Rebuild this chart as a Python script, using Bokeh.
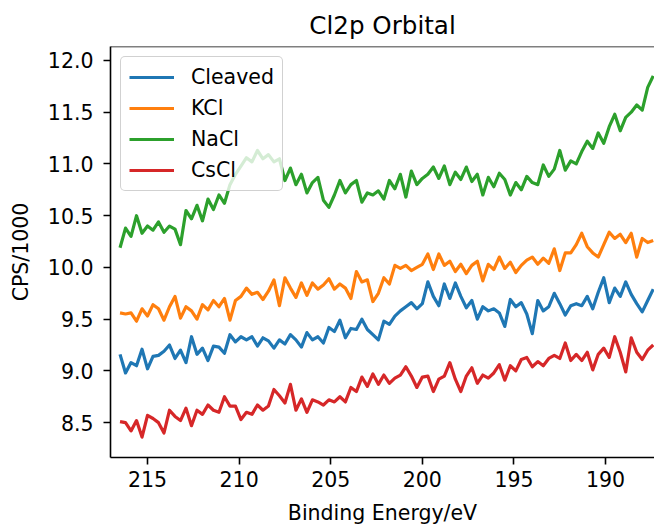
from bokeh.plotting import figure
from bokeh.models import Range1d, FixedTicker, PrintfTickFormatter, Span, Legend, LegendItem
from bokeh.embed import file_html
from bokeh.resources import INLINE

energy = [216.5, 216.2, 215.9, 215.6, 215.3, 215.0, 214.7, 214.4, 214.1, 213.8,
          213.5, 213.2, 212.9, 212.6, 212.3, 212.0, 211.7, 211.4, 211.1, 210.8,
          210.5, 210.2, 209.9, 209.6, 209.3, 209.0, 208.7, 208.4, 208.1, 207.8,
          207.5, 207.2, 206.9, 206.6, 206.3, 206.0, 205.7, 205.4, 205.1, 204.8,
          204.5, 204.2, 203.9, 203.6, 203.3, 203.0, 202.7, 202.4, 202.1, 201.8,
          201.5, 201.2, 200.9, 200.6, 200.3, 200.0, 199.7, 199.4, 199.1, 198.8,
          198.5, 198.2, 197.9, 197.6, 197.3, 197.0, 196.7, 196.4, 196.1, 195.8,
          195.5, 195.2, 194.9, 194.6, 194.3, 194.0, 193.7, 193.4, 193.1, 192.8,
          192.5, 192.2, 191.9, 191.6, 191.3, 191.0, 190.7, 190.4, 190.1, 189.8,
          189.5, 189.2, 188.9, 188.6, 188.3, 188.0, 187.7, 187.4]

cleaved = [9.16, 8.98, 9.08, 9.05, 9.21, 9.02, 9.14, 9.15, 9.19, 9.25,
           9.12, 9.20, 9.08, 9.33, 9.16, 9.22, 9.10, 9.24, 9.23, 9.17,
           9.35, 9.28, 9.33, 9.30, 9.33, 9.24, 9.32, 9.29, 9.22, 9.30,
           9.26, 9.35, 9.30, 9.23, 9.37, 9.30, 9.33, 9.27, 9.42, 9.38,
           9.49, 9.32, 9.41, 9.40, 9.50, 9.40, 9.35, 9.30, 9.48, 9.45,
           9.53, 9.58, 9.62, 9.66, 9.60, 9.65, 9.86, 9.72, 9.63, 9.84,
           9.70, 9.85, 9.72, 9.61, 9.68, 9.50, 9.62, 9.58, 9.60, 9.56,
           9.43, 9.69, 9.62, 9.66, 9.55, 9.36, 9.68, 9.58, 9.62, 9.75,
           9.65, 9.54, 9.63, 9.65, 9.63, 9.72, 9.60, 9.76, 9.90, 9.66,
           9.80, 9.72, 9.86, 9.74, 9.65, 9.57, 9.68, 9.79]

kcl = [9.56, 9.55, 9.56, 9.48, 9.60, 9.53, 9.64, 9.60, 9.49, 9.62,
       9.72, 9.51, 9.62, 9.58, 9.50, 9.64, 9.59, 9.68, 9.62, 9.70,
       9.49, 9.68, 9.72, 9.80, 9.74, 9.76, 9.69, 9.77, 9.88, 9.63,
       9.90, 9.80, 9.71, 9.85, 9.73, 9.85, 9.79, 9.83, 9.89, 9.79,
       9.84, 9.80, 9.70, 9.96, 9.86, 9.88, 9.67, 9.75, 9.90, 9.84,
       10.02, 9.99, 10.02, 9.97, 10.00, 10.03, 10.13, 9.98, 10.13, 10.02,
       10.06, 9.96, 10.03, 9.94, 10.02, 10.06, 9.87, 10.03, 9.98, 10.10,
       9.99, 10.05, 9.95, 10.02, 10.07, 10.10, 10.03, 10.09, 10.04, 10.18,
       9.97, 10.14, 10.14, 10.22, 10.33, 10.20, 10.14, 10.10, 10.22, 10.34,
       10.28, 10.32, 10.24, 10.33, 10.10, 10.28, 10.24, 10.26]

nacl = [10.19, 10.38, 10.30, 10.50, 10.33, 10.40, 10.36, 10.44, 10.34, 10.40,
        10.37, 10.22, 10.55, 10.47, 10.60, 10.45, 10.66, 10.56, 10.70, 10.62,
        10.80, 10.90, 10.98, 11.06, 11.02, 11.13, 11.05, 11.09, 11.02, 11.05,
        10.84, 10.96, 10.80, 10.90, 10.72, 10.82, 10.87, 10.65, 10.58, 10.70,
        10.84, 10.72, 10.80, 10.84, 10.63, 10.72, 10.70, 10.74, 10.66, 10.84,
        10.76, 10.90, 10.68, 10.93, 10.80, 10.86, 10.90, 10.97, 10.86, 10.98,
        10.80, 10.92, 10.85, 10.97, 10.83, 10.90, 10.70, 10.87, 10.78, 10.91,
        10.85, 10.70, 10.82, 10.75, 10.88, 10.82, 10.80, 10.99, 10.88, 10.95,
        11.13, 10.94, 11.03, 11.00, 11.12, 11.22, 11.15, 11.30, 11.20, 11.36,
        11.48, 11.32, 11.45, 11.50, 11.57, 11.52, 11.74, 11.85]

cscl = [8.51, 8.50, 8.42, 8.52, 8.36, 8.57, 8.54, 8.50, 8.40, 8.62,
        8.56, 8.52, 8.64, 8.47, 8.62, 8.58, 8.67, 8.62, 8.60, 8.75,
        8.66, 8.66, 8.53, 8.60, 8.58, 8.67, 8.62, 8.66, 8.82, 8.76,
        8.69, 8.87, 8.62, 8.73, 8.60, 8.72, 8.70, 8.67, 8.72, 8.70,
        8.75, 8.70, 8.84, 8.80, 8.94, 8.85, 8.97, 8.87, 8.96, 8.88,
        8.93, 8.96, 9.04, 8.95, 8.84, 8.94, 8.95, 8.80, 8.92, 8.95,
        9.08, 8.92, 8.80, 8.95, 9.03, 8.88, 8.96, 8.93, 8.98, 9.06,
        8.91, 9.05, 9.00, 9.11, 9.13, 9.04, 9.09, 9.05, 9.12, 9.15,
        9.12, 9.27, 9.10, 9.16, 9.10, 9.18, 9.01, 9.16, 9.22, 9.13,
        9.33, 9.18, 8.99, 9.32, 9.18, 9.11, 9.20, 9.25]

series_names = ["Cleaved", "KCl", "NaCl", "CsCl"]
series_colors = ["#1f77b4", "#ff7f0e", "#2ca02c", "#d62728"]
x_ticks = [215, 210, 205, 200, 195, 190]
y_ticks = [8.5, 9.0, 9.5, 10.0, 10.5, 11.0, 11.5, 12.0]
title_text = "Cl2p Orbital"

FONT = "DejaVu Sans"
FS = "20.5px"
X0, X1 = 217.02, 187.33
Y0, Y1 = 8.163, 12.135

p = figure(width=654, height=528, output_backend="svg", toolbar_location=None,
           x_range=Range1d(X0, X1), y_range=Range1d(Y0, Y1),
           min_border_left=110, min_border_right=0, min_border_top=46, min_border_bottom=71,
           title=title_text)
p.background_fill_color = "white"
p.border_fill_color = "white"
p.outline_line_color = None
p.grid.visible = False

p.title.align = "center"
p.title.text_font = FONT
p.title.text_font_size = "24.6px"
p.title.text_font_style = "normal"
p.title.text_color = "black"
p.title.standoff = 14

for ax in (p.xaxis[0], p.yaxis[0]):
    ax.axis_line_width = 1.6
    ax.axis_line_color = "black"
    ax.major_tick_line_width = 1.6
    ax.major_tick_line_color = "black"
    ax.major_tick_out = 7
    ax.major_tick_in = 0
    ax.minor_tick_line_color = None
    ax.major_label_text_font = FONT
    ax.major_label_text_font_size = FS
    ax.major_label_text_color = "black"
    ax.axis_label_text_font = FONT
    ax.axis_label_text_font_size = FS
    ax.axis_label_text_font_style = "normal"
    ax.axis_label_text_color = "black"

p.xaxis[0].ticker = FixedTicker(ticks=x_ticks)
p.xaxis[0].formatter = PrintfTickFormatter(format="%d")
p.xaxis[0].axis_label = "Binding Energy/eV"
p.xaxis[0].major_label_standoff = 6
p.xaxis[0].axis_label_standoff = 11
p.yaxis[0].ticker = FixedTicker(ticks=y_ticks)
p.yaxis[0].formatter = PrintfTickFormatter(format="%.1f")
p.yaxis[0].axis_label = "CPS/1000"
p.yaxis[0].major_label_standoff = 10
p.yaxis[0].axis_label_standoff = 12

top_spine = Span(location=Y1, dimension="width", line_color="black", line_width=1.6)
p.add_layout(top_spine)

items = []
for name, color, ys in zip(series_names, series_colors, [cleaved, kcl, nacl, cscl]):
    r = p.line(energy, ys, line_color=color, line_width=3.2, line_join="round")
    items.append(LegendItem(label=name, renderers=[r]))

legend = Legend(items=items, location="top_left", margin=10, padding=8,
                glyph_width=45, glyph_height=24, spacing=7, label_standoff=17,
                label_text_font=FONT, label_text_font_size=FS, label_text_color="black",
                background_fill_color="white", background_fill_alpha=0.8,
                border_line_color="#cccccc", border_line_width=1.5, border_line_alpha=0.9,
                border_radius=5)
p.add_layout(legend)

open("out.html", "w").write(file_html(p, INLINE))
